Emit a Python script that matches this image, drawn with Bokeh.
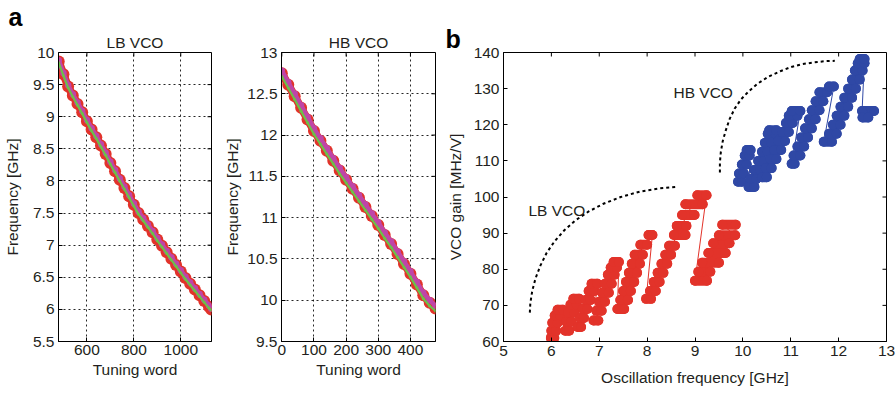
import math
from bokeh.plotting import figure
from bokeh.layouts import row
from bokeh.models import FixedTicker, Title, CustomJSTickFormatter, Range1d, Label
from bokeh.embed import file_html
from bokeh.resources import INLINE

FONT = "Liberation Sans"
FS = "15.5px"
TXT = "#231f20"
RED = "#e2332a"
MAG = "#bf45a8"
GRN = "#6cc04a"
BLUE = "#2f48a5"

# ---------------- panel a : LB VCO ----------------
lb_word = [480, 500, 520, 540, 560, 580, 600, 620, 640, 660, 680, 700, 720, 740,
           760, 780, 800, 820, 840, 860, 880, 900, 920, 940, 960, 980, 1000, 1020,
           1040, 1060, 1080, 1100, 1120, 1130]
lb_red = [9.86, 9.66, 9.47, 9.33, 9.20, 9.07, 8.93, 8.80, 8.68, 8.55, 8.42, 8.28, 8.15, 8.02,
          7.89, 7.76, 7.63, 7.50, 7.40, 7.30, 7.20, 7.09, 6.99, 6.89, 6.79, 6.69, 6.59, 6.49,
          6.40, 6.31, 6.22, 6.13, 6.04, 6.00]
lb_mag = [9.88, 9.68, 9.49, 9.35, 9.22, 9.09, 8.95, 8.82, 8.70, 8.57, 8.44, 8.30, 8.17, 8.04,
          7.91, 7.78, 7.65, 7.52, 7.42, 7.32, 7.22, 7.11, 7.01, 6.91, 6.81, 6.71, 6.61, 6.51,
          6.42, 6.33, 6.24, 6.15, 6.06, 6.01]
lb_grn = [9.84, 9.64, 9.45, 9.31, 9.18, 9.05, 8.91, 8.78, 8.66, 8.53, 8.40, 8.26, 8.13, 8.00,
          7.87, 7.74, 7.61, 7.48, 7.38, 7.28, 7.18, 7.07, 6.97, 6.87, 6.77, 6.67, 6.57, 6.47,
          6.38, 6.29, 6.20, 6.11, 6.02, 5.99]
lb_xticks = [600, 800, 1000]
lb_yticks = [5.5, 6, 6.5, 7, 7.5, 8, 8.5, 9, 9.5, 10]

# ---------------- panel a : HB VCO ----------------
hb_word = [0, 20, 40, 60, 80, 100, 120, 140, 160, 180, 200, 220, 240, 260, 280,
           300, 320, 340, 360, 380, 400, 420, 440, 460, 478]
hb_red = [12.75, 12.61, 12.47, 12.33, 12.19, 12.05, 11.93, 11.81, 11.69, 11.57, 11.46, 11.35,
          11.24, 11.13, 11.02, 10.91, 10.79, 10.68, 10.56, 10.44, 10.32, 10.19, 10.06, 9.97, 9.90]
hb_mag = [12.78, 12.64, 12.50, 12.36, 12.22, 12.08, 11.96, 11.84, 11.72, 11.60, 11.49, 11.38,
          11.27, 11.16, 11.05, 10.94, 10.82, 10.71, 10.59, 10.47, 10.35, 10.22, 10.09, 10.00, 9.93]
hb_grn = [12.71, 12.57, 12.43, 12.29, 12.15, 12.01, 11.89, 11.77, 11.65, 11.53, 11.42, 11.31,
          11.20, 11.09, 10.98, 10.87, 10.75, 10.64, 10.52, 10.40, 10.28, 10.15, 10.02, 9.93, 9.87]
hb_xticks = [0, 100, 200, 300, 400]
hb_yticks = [9.5, 10, 10.5, 11, 11.5, 12, 12.5, 13]

# ---------------- panel b : VCO gain ----------------
# each run: gain level [MHz/V], first and last oscillation frequency [GHz]
lb_run_gain = [61.0, 63.0, 65.2, 67.2, 68.8,
               63.0, 65.5, 68.0, 70.2, 71.8,
               64.0, 66.5, 69.0, 71.5, 74.0, 76.0,
               65.8, 68.5, 71.0, 73.5, 76.0, 78.5, 80.5, 82.0,
               69.0, 71.5, 74.0, 76.5, 79.0, 81.5, 84.0, 86.8, 89.5,
               71.8, 74.0, 76.5, 79.0, 81.5, 84.0, 86.5, 89.5, 92.0, 95.0, 98.0, 100.5,
               76.8, 79.3, 81.8, 84.5, 87.2, 89.4, 92.3]
lb_run_f0 = [5.99, 6.00, 6.02, 6.07, 6.13,
             6.29, 6.31, 6.35, 6.40, 6.46,
             6.55, 6.60, 6.66, 6.72, 6.78, 6.84,
             6.88, 6.94, 7.00, 7.06, 7.12, 7.18, 7.24, 7.30,
             7.38, 7.44, 7.50, 7.56, 7.62, 7.68, 7.74, 7.86, 8.03,
             7.98, 8.06, 8.14, 8.22, 8.30, 8.38, 8.46, 8.56, 8.62, 8.73, 8.80, 9.05,
             9.00, 9.07, 9.15, 9.28, 9.38, 9.50, 9.57]
lb_run_f1 = [6.06, 6.10, 6.13, 6.19, 6.24,
             6.37, 6.42, 6.48, 6.53, 6.58,
             6.62, 6.68, 6.75, 6.82, 6.90, 6.96,
             6.98, 7.05, 7.12, 7.20, 7.26, 7.32, 7.37, 7.41,
             7.52, 7.60, 7.66, 7.73, 7.79, 7.85, 7.91, 8.00, 8.11,
             8.08, 8.18, 8.26, 8.34, 8.42, 8.50, 8.58, 8.80, 8.82, 8.99, 9.16, 9.24,
             9.25, 9.32, 9.50, 9.64, 9.72, 9.84, 9.85]

hb_run_gain = [104.2, 106.5, 109.0, 111.5, 113.0,
               102.8, 105.0, 107.5, 110.0, 112.5, 115.0, 117.5, 118.5,
               105.5, 108.0, 110.5, 113.0, 115.5, 118.0, 120.5, 122.5, 123.8,
               109.2, 111.5, 114.0, 116.5, 119.0, 121.5, 124.0, 126.5, 129.0, 130.6,
               115.3, 117.5, 120.0, 122.5, 125.0, 127.5, 130.0, 132.5, 135.0, 137.0, 138.2,
               123.8, 122.0]
hb_run_f0 = [9.90, 9.92, 9.98, 10.04, 10.08,
             10.12, 10.16, 10.24, 10.32, 10.40, 10.46, 10.52, 10.55,
             10.40, 10.48, 10.58, 10.66, 10.74, 10.82, 10.90, 10.96, 11.02,
             11.02, 11.06, 11.14, 11.22, 11.30, 11.38, 11.44, 11.52, 11.60, 11.80,
             11.69, 11.80, 11.88, 11.96, 12.04, 12.12, 12.20, 12.28, 12.34, 12.40, 12.44,
             12.49, 12.50]
hb_run_f1 = [9.98, 10.02, 10.08, 10.14, 10.16,
             10.24, 10.28, 10.36, 10.44, 10.52, 10.60, 10.68, 10.70,
             10.50, 10.60, 10.70, 10.80, 10.88, 10.96, 11.04, 11.14, 11.20,
             11.08, 11.20, 11.28, 11.36, 11.44, 11.52, 11.60, 11.68, 11.76, 11.90,
             11.86, 11.96, 12.04, 12.12, 12.20, 12.28, 12.36, 12.44, 12.50, 12.54, 12.54,
             12.74, 12.62]

lb_arc_f = [5.55, 5.56, 5.60, 5.67, 5.77, 5.90, 6.07, 6.27, 6.50, 6.78, 7.10, 7.45, 7.85, 8.25, 8.60]
lb_arc_g = [68.0, 70.5, 74.0, 77.5, 81.0, 84.5, 87.8, 90.8, 93.5, 96.0, 98.2, 100.0, 101.5, 102.4, 102.8]
hb_arc_f = [9.52, 9.52, 9.54, 9.58, 9.64, 9.72, 9.83, 9.96, 10.11, 10.30, 10.53, 10.78, 11.01,
            11.25, 11.50, 11.72, 11.92]
hb_arc_g = [106.8, 109.5, 112.5, 115.5, 118.3, 121.5, 124.5, 127.0, 129.1, 131.3, 133.3, 134.8,
            136.0, 136.8, 137.3, 137.6, 137.7]
b_xticks = [5, 6, 7, 8, 9, 10, 11, 12, 13]
b_yticks = [60, 70, 80, 90, 100, 110, 120, 130, 140]

FMT = "return String(tick);"


def style_axis(ax, ticks, label, label_standoff, major_standoff):
    ax.ticker = FixedTicker(ticks=ticks, minor_ticks=[])
    ax.formatter = CustomJSTickFormatter(code=FMT)
    ax.major_tick_in = 4
    ax.major_tick_out = 0
    ax.minor_tick_line_color = None
    ax.axis_line_color = "black"
    ax.major_tick_line_color = "black"
    ax.major_label_text_font = FONT
    ax.major_label_text_font_size = FS
    ax.major_label_text_color = TXT
    ax.major_label_standoff = major_standoff
    ax.axis_label = label
    ax.axis_label_text_font = FONT
    ax.axis_label_text_font_size = FS
    ax.axis_label_text_font_style = "normal"
    ax.axis_label_text_color = TXT
    ax.axis_label_standoff = label_standoff


def frame_ticks(p, xt, yt, xr, yr):
    # inward ticks on the top and right edges of the box
    p.ray(x=xt, y=[yr[1]] * len(xt), length=4, length_units="screen",
          angle=-math.pi / 2, line_color="black", line_width=1)
    p.ray(x=[xr[1]] * len(yt), y=yt, length=4, length_units="screen",
          angle=math.pi, line_color="black", line_width=1)


def make_fig(xr, yr, fw, fh, bl, br, bt, bb):
    return figure(frame_width=fw, frame_height=fh, min_border_left=bl, min_border_right=br,
                  min_border_top=bt, min_border_bottom=bb, x_range=Range1d(*xr),
                  y_range=Range1d(*yr), output_backend="svg", toolbar_location=None,
                  background_fill_color="white", border_fill_color="white",
                  outline_line_color="black", outline_line_width=1)


def grid_style(p, xt, yt):
    p.xgrid.ticker = FixedTicker(ticks=xt, minor_ticks=[])
    p.ygrid.ticker = FixedTicker(ticks=yt, minor_ticks=[])
    for g in (p.xgrid, p.ygrid):
        g.grid_line_color = "black"
        g.grid_line_dash = "2 3"
        g.grid_line_width = 1
        g.grid_line_alpha = 0.85


def letter_title(text, offset):
    return Title(text=text, align="left", offset=offset, text_font=FONT,
                 text_font_size="25px", text_font_style="bold", text_color="black",
                 standoff=0)


def freq_panel(word, red, mag, grn, xr, yr, xt, yt, fw, bl, br, title, ylab_standoff):
    p = make_fig(xr, yr, fw, 289, bl, br, 52, 53)
    style_axis(p.xaxis[0], xt, "Tuning word", 3, 3)
    style_axis(p.yaxis[0], yt, "Frequency [GHz]", ylab_standoff, 4)
    grid_style(p, xt, yt)
    frame_ticks(p, xt, yt, xr, yr)
    p.line(word, red, line_color=RED, line_width=8)
    p.scatter(word, red, size=12, fill_color=RED, line_color=None)
    p.line(word, mag, line_color=MAG, line_width=4.5)
    p.scatter(word, mag, size=6.5, fill_color=MAG, line_color=None)
    p.line(word, grn, line_color=GRN, line_width=2.2)
    p.scatter(word, grn, size=3, fill_color=GRN, line_color=None)
    p.add_layout(Title(text=title, align="center", text_font=FONT, text_font_size=FS,
                       text_font_style="normal", text_color=TXT, standoff=3), "above")
    return p


p1 = freq_panel(lb_word, lb_red, lb_mag, lb_grn, (479, 1131), (5.5, 10), lb_xticks, lb_yticks,
                153, 57, 10, "LB VCO", 9)
p1.add_layout(letter_title("a", -50), "above")
p2 = freq_panel(hb_word, hb_red, hb_mag, hb_grn, (-1, 478), (9.5, 13), hb_xticks, hb_yticks,
                154, 57, 8, "HB VCO", 3)

# panel b
bx, by = (5, 13), (60, 140)
p3 = make_fig(bx, by, 383, 289, 60, 14, 51, 54)
style_axis(p3.xaxis[0], b_xticks, "Oscillation frequency [GHz]", 10, 4)
style_axis(p3.yaxis[0], b_yticks, "VCO gain [MHz/V]", 7, 4)
p3.xgrid.visible = False
p3.ygrid.visible = False
frame_ticks(p3, b_xticks, b_yticks, bx, by)


def gain_series(p, gain, f0, f1, color):
    xs, ys = [], []
    for g, a, b in zip(gain, f0, f1):
        xs += [a, b]
        ys += [g, g]
    p.line(xs, ys, line_color=color, line_width=1)
    p.segment(f0, gain, f1, gain, line_color=color, line_width=10, line_cap="round")
    p.scatter(xs, ys, size=10, fill_color=color, line_color=None)


gain_series(p3, lb_run_gain, lb_run_f0, lb_run_f1, RED)
gain_series(p3, hb_run_gain, hb_run_f0, hb_run_f1, BLUE)
p3.line(lb_arc_f, lb_arc_g, line_color="black", line_width=2, line_dash="3 3")
p3.line(hb_arc_f, hb_arc_g, line_color="black", line_width=2, line_dash="3 3")
p3.add_layout(Label(x=8.55, y=128.8, text="HB VCO", text_align="left", text_baseline="alphabetic",
                    text_font=FONT, text_font_size=FS, text_color=TXT))
p3.add_layout(Label(x=5.52, y=96.2, text="LB VCO", text_align="left", text_baseline="alphabetic",
                    text_font=FONT, text_font_size=FS, text_color=TXT))
p3.add_layout(letter_title("b", -58), "above")

layout = row(p1, p2, p3)
open("out.html", "w").write(file_html(layout, INLINE))
